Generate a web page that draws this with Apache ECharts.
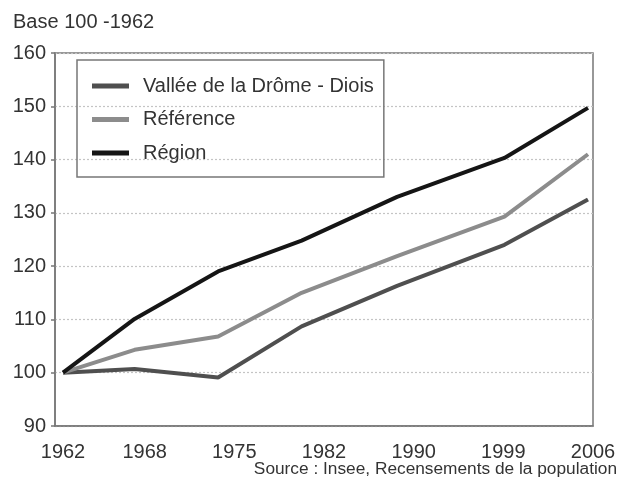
<!DOCTYPE html>
<html>
<head>
<meta charset="utf-8">
<script src="https://cdn.jsdelivr.net/npm/echarts@6/dist/echarts.min.js"></script>
<style>
html,body{margin:0;padding:0;background:#fff;}
#c{width:620px;height:490px;}
</style>
</head>
<body>
<div id="c"></div>
<script>
var years = [1962, 1968, 1975, 1982, 1990, 1999, 2006];
var tickLabels = ['1962', '1968', '1975', '1982', '1990', '1999', '2006'];
var seriesNames = ['Vallée de la Drôme - Diois', 'Référence', 'Région'];
var vallee = [100, 100.7, 99.1, 108.7, 116.3, 124.0, 132.5];
var reference = [100, 104.3, 106.8, 115.0, 121.9, 129.3, 141.0];
var region = [100, 110.1, 119.0, 124.8, 133.0, 140.3, 149.7];

var FONT = '"Liberation Sans", Arial, sans-serif';
var TXT = '#333333';

function pairs(vals) {
  return years.map(function (y, i) { return [y, vals[i]]; });
}

var chart = echarts.init(document.getElementById('c'), null, { renderer: 'canvas' });
chart.setOption({
  animation: false,
  backgroundColor: '#ffffff',
  textStyle: { fontFamily: FONT },
  title: [
    { text: 'Base 100 -1962', left: 13, top: 12, padding: 0,
      textStyle: { fontFamily: FONT, fontSize: 20, fontWeight: 'normal', color: TXT } },
    { text: 'Source : Insee, Recensements de la population', right: 3, top: 461, padding: 0,
      textStyle: { fontFamily: FONT, fontSize: 17.3, fontWeight: 'normal', color: TXT } }
  ],
  legend: {
    orient: 'vertical',
    left: 77, top: 60,
    padding: [14, 10, 12, 15],
    itemGap: 9.5,
    itemWidth: 37, itemHeight: 5,
    icon: 'rect',
    borderColor: '#777777', borderWidth: 1.5,
    textStyle: { fontFamily: FONT, fontSize: 20, lineHeight: 24, color: TXT, padding: [0, 0, 0, 9] },
    data: seriesNames
  },
  grid: {
    left: 55, right: 27, top: 53, bottom: 64,
    show: true, borderColor: '#777777', borderWidth: 1.5
  },
  xAxis: [
    {
      type: 'category', data: tickLabels, boundaryGap: false,
      axisLine: { show: true, lineStyle: { color: '#777777', width: 1.5 } },
      axisTick: { show: false },
      splitLine: { show: false },
      axisLabel: {
        interval: 0,
        fontFamily: FONT, fontSize: 20, color: TXT, margin: 16,
        formatter: function (v, i) { return i === 0 ? '{f|' + v + '}' : v; },
        rich: { f: { fontFamily: FONT, fontSize: 20, color: TXT, padding: [0, 0, 0, 16] } }
      }
    },
    {
      type: 'value', min: 1961.33, max: 2006.42, show: false,
      splitLine: { show: false }
    }
  ],
  yAxis: {
    type: 'value', min: 90, max: 160, interval: 10,
    axisLine: { show: true, lineStyle: { color: '#777777', width: 1.5 } },
    axisTick: { show: true, inside: false, length: 4, lineStyle: { color: '#777777', width: 1.5 } },
    axisLabel: { fontFamily: FONT, fontSize: 20, color: TXT, margin: 9 },
    splitLine: { show: true, lineStyle: { color: '#c4c4c4', type: [2, 2], width: 1.2 } }
  },
  series: [
    { name: seriesNames[0], type: 'line', xAxisIndex: 1, data: pairs(vallee),
      showSymbol: false, symbol: 'none', color: '#4f4f4f',
      lineStyle: { color: '#4f4f4f', width: 4 } },
    { name: seriesNames[1], type: 'line', xAxisIndex: 1, data: pairs(reference),
      showSymbol: false, symbol: 'none', color: '#8c8c8c',
      lineStyle: { color: '#8c8c8c', width: 4 } },
    { name: seriesNames[2], type: 'line', xAxisIndex: 1, data: pairs(region),
      showSymbol: false, symbol: 'none', color: '#151515',
      lineStyle: { color: '#151515', width: 4 } }
  ]
});
</script>
</body>
</html>
